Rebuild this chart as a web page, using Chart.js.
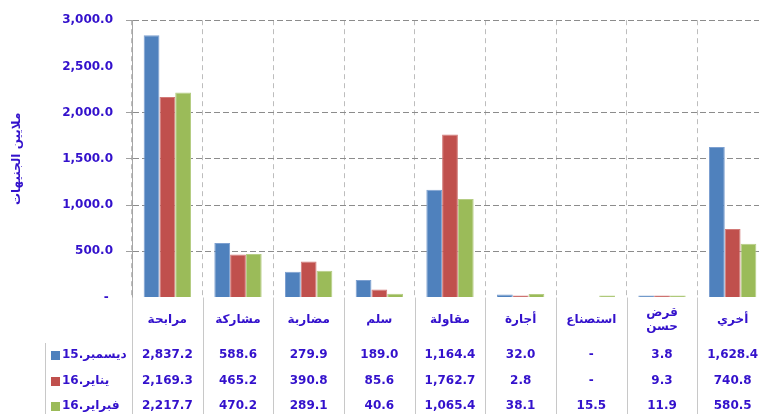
<!DOCTYPE html>
<html lang="ar" dir="ltr">
<head>
<meta charset="utf-8">
<script src="https://cdn.jsdelivr.net/npm/chart.js@4/dist/chart.umd.min.js"></script>
<style>
html,body{margin:0;padding:0;background:#fff;overflow:hidden;}
#wrap{width:768px;height:414px;}
</style>
</head>
<body>
<div id="wrap"><canvas id="c" width="768" height="414"></canvas></div>
<script>
// ---- data ----
const categories = ['مرابحة','مشاركة','مضاربة','سلم','مقاولة','أجارة','استصناع',['قرض','حسن'],'أخري'];
const seriesNames = ['ديسمبر.15','يناير.16','فبراير.16'];
const dec15 = [2837.2, 588.6, 279.9, 189.0, 1164.4, 32.0, null, 3.8, 1628.4];
const jan16 = [2169.3, 465.2, 390.8, 85.6, 1762.7, 2.8, null, 9.3, 740.8];
const feb16 = [2217.7, 470.2, 289.1, 40.6, 1065.4, 38.1, 15.5, 11.9, 580.5];
const yTicks = [0, 500, 1000, 1500, 2000, 2500, 3000];
const yTitle = 'ملايين الجنيهات';

// ---- style ----
const TEXT = '#3311CC';
const FONT = '"DejaVu Sans", sans-serif';
const fills = ['#4F81BD', '#C0504D', '#9BBB59'];
const edges = ['#7DA0D0', '#D27A78', '#B5CD84'];
const seriesData = [dec15, jan16, feb16];

function fmt(v) {
  if (v === null || v === undefined) return '-';
  return v.toLocaleString('en-US', {minimumFractionDigits: 1, maximumFractionDigits: 1});
}

const tablePlugin = {
  id: 'dataTable',
  afterDraw(chart) {
    const {ctx, chartArea: ca, scales: {x}} = chart;
    const n = categories.length;
    const step = x.getPixelForValue(1) - x.getPixelForValue(0);
    const H = chart.height;
    const rowY = [ca.bottom + 57.5, ca.bottom + 83.5, ca.bottom + 108];
    ctx.save();
    // table column lines
    ctx.strokeStyle = '#C8C8C8';
    ctx.lineWidth = 1;
    ctx.beginPath();
    for (let i = 0; i <= n; i++) {
      const bx = Math.round(x.getPixelForValue(i) - step / 2) + 0.5;
      ctx.moveTo(bx, ca.bottom);
      ctx.lineTo(bx, H);
    }
    const legX = Math.round(ca.left - 87) + 0.5;
    ctx.moveTo(legX, rowY[0] - 12);
    ctx.lineTo(legX, H);
    ctx.stroke();
    // rows
    ctx.font = 'bold 12px ' + FONT;
    ctx.textBaseline = 'middle';
    for (let r = 0; r < seriesData.length; r++) {
      const y = rowY[r];
      ctx.fillStyle = fills[r];
      ctx.fillRect(ca.left - 81, Math.round(y - 4), 9, 9);
      ctx.fillStyle = TEXT;
      ctx.textAlign = 'left';
      ctx.fillText(seriesNames[r], ca.left - 70, y);
      ctx.textAlign = 'center';
      for (let i = 0; i < n; i++) {
        ctx.fillText(fmt(seriesData[r][i]), x.getPixelForValue(i), y);
      }
    }
    ctx.restore();
  }
};

const hideVals = v => v === 0 || v === 2500;

new Chart(document.getElementById('c'), {
  type: 'bar',
  data: {
    labels: categories,
    datasets: seriesData.map((d, i) => ({
      label: seriesNames[i],
      data: d,
      backgroundColor: fills[i],
      borderColor: edges[i],
      borderWidth: 1,
      borderSkipped: 'start',
      minBarLength: 2,
      barPercentage: 1,
      categoryPercentage: 0.67
    }))
  },
  options: {
    responsive: false,
    animation: false,
    devicePixelRatio: 1,
    layout: {padding: {left: 0, top: 19, right: 0, bottom: 0}},
    plugins: {legend: {display: false}, tooltip: {enabled: false}},
    scales: {
      x: {
        offset: true,
        grid: {display: true, offset: true, drawTicks: false, color: '#BDBDBD', lineWidth: 1},
        border: {display: false, dash: [5, 4]},
        ticks: {
          color: TEXT,
          font: {family: FONT, size: 12, weight: 'bold'},
          padding: 15,
          crossAlign: 'center',
          maxRotation: 0,
          autoSkip: false
        },
        afterFit(s) { s.height = 116.5; }
      },
      y: {
        min: 0,
        max: 3000,
        afterBuildTicks(s) { s.ticks = yTicks.map(v => ({value: v})); },
        grid: {
          color: c => hideVals(c.tick.value) ? 'rgba(0,0,0,0)' : '#8C8C8C',
          tickColor: c => hideVals(c.tick.value) ? 'rgba(0,0,0,0)' : '#A0A0A0',
          tickLength: 6,
          lineWidth: 1
        },
        border: {display: true, color: '#A6A6A6', width: 1, dash: [6, 3]},
        ticks: {
          color: TEXT,
          font: {family: FONT, size: 12, weight: 'bold'},
          padding: 13,
          callback: v => v === 0 ? '- ' : fmt(v)
        },
        title: {
          display: true,
          text: yTitle,
          color: TEXT,
          font: {family: FONT, size: 12, weight: 'bold'},
          padding: {top: 10, bottom: 0}
        },
        afterFit(s) { s.width = 132; }
      }
    }
  },
  plugins: [tablePlugin]
});
</script>
</body>
</html>
